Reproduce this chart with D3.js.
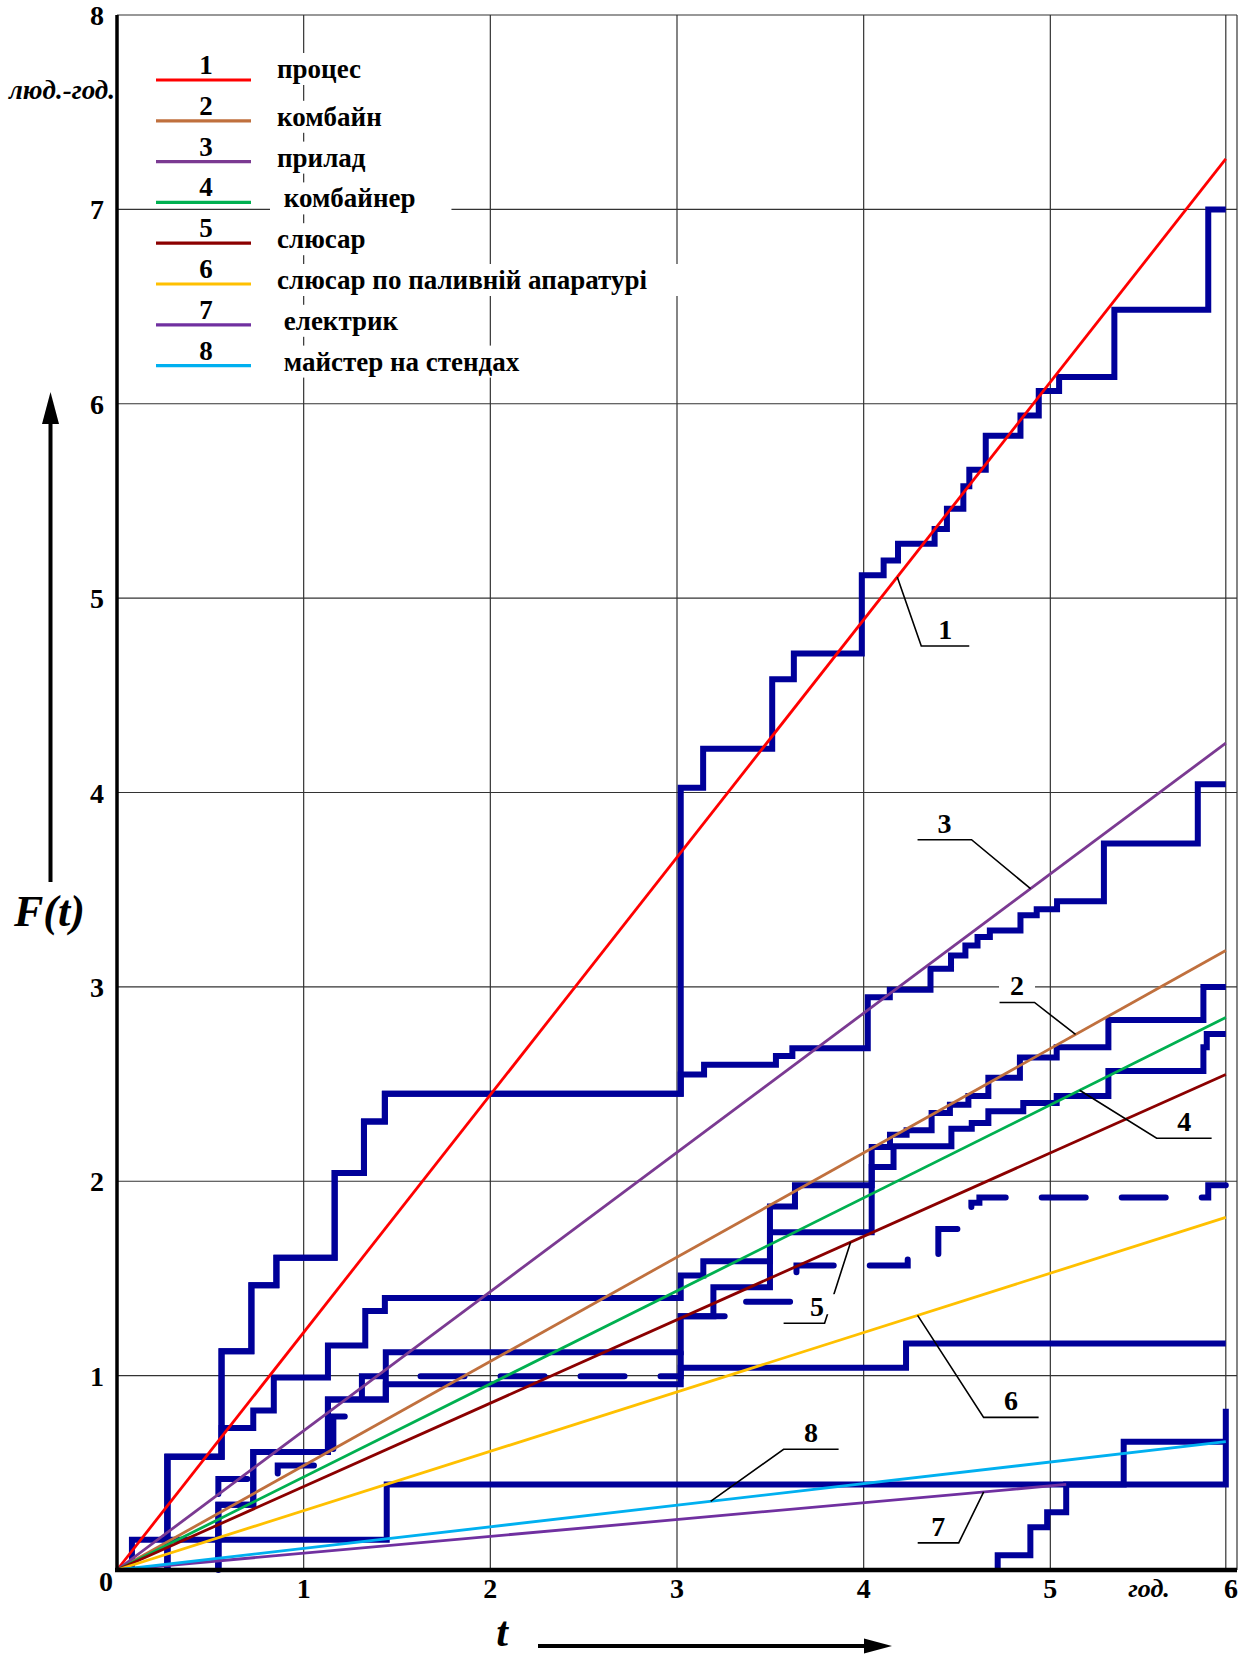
<!DOCTYPE html>
<html>
<head>
<meta charset="utf-8">
<script src="https://cdn.jsdelivr.net/npm/d3@7"></script>
<style>
  body { margin: 0; background: #fff; }
  svg { display: block; font-family: "Liberation Serif", "DejaVu Serif", serif; font-weight: bold; }
</style>
</head>
<body>
<div class="svg-mount"></div>
<script>
const W = 1240;
const H = 1656;

const xTicks = [1, 2, 3, 4, 5, 6];
const yTicks = [1, 2, 3, 4, 5, 6, 7, 8];
const tEnd = 5.94; // end of the observation, second last vertical line

const legendNums = ["1", "2", "3", "4", "5", "6", "7", "8"];
const legendLabels = [
  "процес",
  "комбайн",
  "прилад",
  " комбайнер",
  "слюсар",
  "слюсар по паливній апаратурі",
  " електрик",
  " майстер на стендах",
];
const lineColors = ["#ff0000", "#c0703e", "#7b3a92", "#00b050", "#8b0000", "#ffc000", "#7030a0", "#00b0f0"];

// straight lines F(t) = a*t, given by their end point
const lineEndT = [5.94, 5.94, 5.94, 5.94, 5.94, 5.94, 5.085, 5.94];
const lineEndF = [7.26, 3.187, 4.254, 2.843, 2.549, 1.814, 0.44, 0.66];

// step curves: [t, F] at every jump
const stepProcess = [
  [0, 0], [0.27, 0.582], [0.56, 1.125], [0.72, 1.465], [0.854, 1.606], [1.166, 2.043], [1.323, 2.307],
  [1.435, 2.45], [3.02, 4.025], [3.14, 4.225], [3.51, 4.582], [3.626, 4.715], [3.99, 5.118], [4.107, 5.194],
  [4.184, 5.28], [4.38, 5.356], [4.446, 5.46], [4.534, 5.576], [4.566, 5.66], [4.654, 5.835], [4.84, 5.94],
  [4.938, 6.065], [5.047, 6.137], [5.343, 6.483], [5.846, 7.0], [5.94, 7.0],
];
const stepKombain = [
  [0, 0], [0.27, 0.582], [0.56, 0.73], [0.73, 0.82], [0.84, 0.99], [1.13, 1.155], [1.33, 1.332], [1.435, 1.4],
  [3.02, 1.515], [3.141, 1.588], [3.498, 1.87], [3.632, 1.98], [4.043, 2.176], [4.141, 2.239], [4.23, 2.262],
  [4.364, 2.351], [4.462, 2.394], [4.561, 2.438], [4.668, 2.533], [4.837, 2.637], [5.034, 2.689], [5.311, 2.83],
  [5.82, 3.0], [5.94, 3.0],
];
const stepPrylad = [
  [0, 0], [0.27, 0.582], [0.56, 1.125], [0.72, 1.465], [0.854, 1.606], [1.166, 2.043], [1.323, 2.307],
  [1.435, 2.45], [3.02, 2.549], [3.145, 2.6], [3.53, 2.644], [3.618, 2.684], [4.022, 2.947], [4.14, 2.985],
  [4.358, 3.093], [4.468, 3.161], [4.545, 3.213], [4.61, 3.256], [4.676, 3.29], [4.84, 3.368], [4.927, 3.4],
  [5.036, 3.44], [5.287, 3.737], [5.79, 4.043], [5.94, 4.043],
];
const stepKombainer = [
  [0, 0], [0.543, 0.336], [0.73, 0.607], [1.13, 0.877], [1.44, 1.12], [3.02, 1.305], [3.195, 1.455],
  [3.498, 1.737], [4.043, 2.073], [4.16, 2.18], [4.47, 2.27], [4.579, 2.3], [4.668, 2.36], [4.855, 2.403],
  [5.034, 2.438], [5.311, 2.567], [5.82, 2.689], [5.838, 2.758], [5.94, 2.758],
];
const stepSlusar = [
  [0, 0], [0.543, 0.468], [0.861, 0.537], [1.159, 0.79], [1.312, 0.997], [3.02, 1.305], [3.3, 1.38],
  [3.64, 1.567], [4.236, 1.6], [4.4, 1.754], [4.577, 1.89], [4.62, 1.917], [5.846, 1.98], [5.94, 1.98],
];
const stepPalyvo = [
  [0, 0], [0.543, 0.336], [0.73, 0.607], [1.13, 0.877], [1.44, 0.955], [3.02, 1.04], [4.227, 1.165],
  [5.94, 1.165],
];
const stepElektryk = [[0, 0], [4.718, 0.076], [4.893, 0.22], [4.983, 0.297], [5.085, 0.44], [5.94, 0.83]];
const stepMaister = [[0, 0], [0.08, 0.155], [1.445, 0.44], [5.393, 0.66], [5.94, 0.66]];

// where the numbered leader touches each straight line
const calloutT = [4.18, 5.135, 4.894, 5.157, 3.93, 4.289, 4.643, 3.18];

const x = d3.scaleLinear().domain([0, 6]).range([117, 1237]);
const y = d3.scaleLinear().domain([0, 8]).range([1570, 15]);

const svg = d3
  .select(".svg-mount")
  .append("svg")
  .attr("width", W)
  .attr("height", H);

svg.append("rect").attr("width", W).attr("height", H).attr("fill", "#fff");

// grid
const grid = svg.append("g");
grid
  .selectAll("line.vgrid")
  .data(xTicks.concat([tEnd]))
  .enter()
  .append("line")
  .attr("class", "vgrid")
  .attr("x1", (d) => x(d))
  .attr("x2", (d) => x(d))
  .attr("y1", y(8))
  .attr("y2", y(0))
  .attr("stroke", "#333")
  .attr("stroke-width", 1.2);
grid
  .selectAll("line.hgrid")
  .data(yTicks)
  .enter()
  .append("line")
  .attr("class", "hgrid")
  .attr("x1", x(0))
  .attr("x2", x(6))
  .attr("y1", (d) => y(d))
  .attr("y2", (d) => y(d))
  .attr("stroke", "#333")
  .attr("stroke-width", 1.2);

// legend
const legend = svg.append("g");
const rowY = (i) => 80 + 40.8 * i;
legendLabels.forEach((label, i) => {
  const row = legend.append("g");
  const box = row.append("rect").attr("fill", "#fff");
  row
    .append("line")
    .attr("x1", 156)
    .attr("x2", 251)
    .attr("y1", rowY(i))
    .attr("y2", rowY(i))
    .attr("stroke", lineColors[i])
    .attr("stroke-width", 3.2);
  row
    .append("text")
    .attr("x", 206)
    .attr("y", rowY(i) - 6)
    .attr("text-anchor", "middle")
    .attr("font-size", 27)
    .text(legendNums[i]);
  const txt = row
    .append("text")
    .attr("x", 277)
    .attr("y", rowY(i) + (i === 0 ? -2 : 5))
    .attr("font-size", 27)
    .style("white-space", "pre")
    .text(label);
  const bb = txt.node().getBBox();
  box
    .attr("x", 270)
    .attr("y", bb.y - 1)
    .attr("width", bb.x + bb.width - 270 + 36)
    .attr("height", bb.height + 2);
});

// step curves
const stepLine = d3
  .line()
  .x((d) => x(d[0]))
  .y((d) => y(d[1]))
  .curve(d3.curveStepAfter);
// drawn from the first jump, so nothing runs along the time axis
const fromFirstJump = (s) => [[s[1][0], 0]].concat(s.slice(1));
const steps = [stepProcess, stepKombain, stepPrylad, stepKombainer, stepSlusar, stepPalyvo, stepElektryk, stepMaister];
const stepG = svg.append("g");
steps.forEach((s) => {
  const p = stepG
    .append("path")
    .attr("d", stepLine(fromFirstJump(s)))
    .attr("fill", "none")
    .attr("stroke", "#000099")
    .attr("stroke-width", 6)
    .attr("stroke-linejoin", "miter");
  if (s === stepSlusar) {
    // dashed curve, one dash starting where the level ~1.0 reaches t = 1.61
    const part = fromFirstJump(s).filter((d) => d[0] <= 1.312).concat([[1.61, 0.997]]);
    const tmp = stepG.append("path").attr("d", stepLine(part));
    const L = tmp.node().getTotalLength();
    tmp.remove();
    p.attr("stroke-dasharray", "44,36")
      .attr("stroke-linecap", "round")
      .attr("stroke-dashoffset", (80 - ((L + 3) % 80)) % 80);
  }
});

// straight lines
const lineG = svg.append("g");
lineEndT.forEach((t, i) => {
  lineG
    .append("line")
    .attr("x1", x(0))
    .attr("y1", y(0))
    .attr("x2", x(t))
    .attr("y2", y(lineEndF[i]))
    .attr("stroke", lineColors[i])
    .attr("stroke-width", 2.8);
});

// numbered leaders: [dx, dy] of the elbow from the line, then horizontal run
const calloutShape = [
  [24, 69, 48],
  [-41, -32, -35],
  [-59, -49, -54],
  [77, 48, 55],
  [-26, 81, -41],
  [66, 102, 55],
  [-25, 51, -41],
  [73, -52, 55],
];
const callG = svg.append("g");
calloutT.forEach((t, i) => {
  const ax = x(t);
  const ay = y((lineEndF[i] / lineEndT[i]) * t);
  const [dx, dy, hx] = calloutShape[i];
  const ex = ax + dx;
  const ey = ay + dy;
  callG
    .append("path")
    .attr("d", `M${ax},${ay}L${ex},${ey}H${ex + hx}`)
    .attr("fill", "none")
    .attr("stroke", "#000")
    .attr("stroke-width", 1.6);
  const mx = ex + hx / 2 + (i === 4 ? 13 : 0);
  callG
    .append("rect")
    .attr("x", mx - 18)
    .attr("y", ey - 29)
    .attr("width", 36)
    .attr("height", 20)
    .attr("fill", "#fff");
  callG
    .append("text")
    .attr("x", mx)
    .attr("y", ey - 7)
    .attr("text-anchor", "middle")
    .attr("font-size", 28)
    .text(legendNums[i]);
});

// axes
svg
  .append("line")
  .attr("x1", x(0))
  .attr("x2", x(0))
  .attr("y1", y(8))
  .attr("y2", y(0) + 2)
  .attr("stroke", "#000")
  .attr("stroke-width", 3.5);
svg
  .append("line")
  .attr("x1", x(0) - 2)
  .attr("x2", x(6))
  .attr("y1", y(0))
  .attr("y2", y(0))
  .attr("stroke", "#000")
  .attr("stroke-width", 4.5);

// tick labels
svg
  .append("g")
  .selectAll("text")
  .data(yTicks)
  .enter()
  .append("text")
  .attr("x", 97)
  .attr("y", (d) => y(d) + 10)
  .attr("text-anchor", "middle")
  .attr("font-size", 28)
  .text((d) => d);
svg
  .append("g")
  .selectAll("text")
  .data(xTicks)
  .enter()
  .append("text")
  .attr("x", (d) => Math.min(x(d), 1231))
  .attr("y", 1598)
  .attr("text-anchor", "middle")
  .attr("font-size", 28)
  .text((d) => d);
svg.append("text").attr("x", 106).attr("y", 1591).attr("text-anchor", "middle").attr("font-size", 28).text("0");

// axis titles
svg.append("text").attr("x", 1149).attr("y", 1597).attr("text-anchor", "middle")
  .attr("font-size", 26).attr("font-style", "italic").text("год.");
svg.append("text").attr("x", 9).attr("y", 99)
  .attr("font-size", 27).attr("font-style", "italic").text("люд.-год.");
svg.append("text").attr("x", 14).attr("y", 926)
  .attr("font-size", 44).attr("font-style", "italic").text("F(t)");
svg.append("text").attr("x", 502).attr("y", 1646).attr("text-anchor", "middle")
  .attr("font-size", 42).attr("font-style", "italic").text("t");

// arrows
svg.append("line").attr("x1", 50.5).attr("x2", 50.5).attr("y1", 882).attr("y2", 418)
  .attr("stroke", "#000").attr("stroke-width", 4);
svg.append("path").attr("d", "M42,424L50.5,392L59,424Z").attr("fill", "#000");
svg.append("line").attr("x1", 538).attr("x2", 868).attr("y1", 1646).attr("y2", 1646)
  .attr("stroke", "#000").attr("stroke-width", 4);
svg.append("path").attr("d", "M864,1638.5L892,1646L864,1653.5Z").attr("fill", "#000");
</script>
</body>
</html>
